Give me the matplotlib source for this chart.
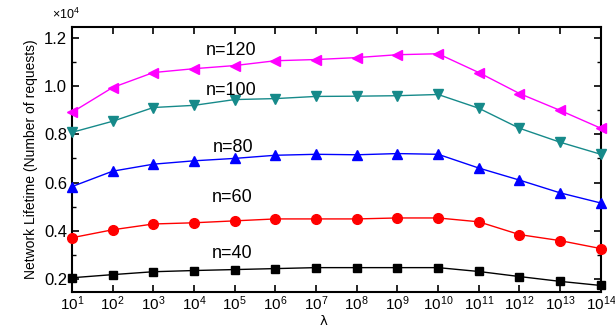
import matplotlib
matplotlib.use("Agg")
import matplotlib.pyplot as plt
from matplotlib.ticker import MultipleLocator, LogLocator, NullLocator

plt.rcParams['font.family'] = ['Liberation Sans', 'DejaVu Sans']
plt.rcParams['mathtext.fontset'] = 'custom'
plt.rcParams['mathtext.rm'] = 'Liberation Sans'

# lambda values (10^1 .. 10^14)
exponents = list(range(1, 15))
lam = [10.0 ** e for e in exponents]

# Network lifetime, in units of 10^4 requests
n40 = [0.205, 0.218, 0.230, 0.235, 0.239, 0.243, 0.247, 0.247, 0.247, 0.247, 0.231, 0.210, 0.190, 0.173]
n60 = [0.371, 0.404, 0.428, 0.433, 0.441, 0.449, 0.449, 0.449, 0.453, 0.453, 0.437, 0.384, 0.359, 0.326]
n80 = [0.583, 0.647, 0.676, 0.690, 0.700, 0.713, 0.717, 0.715, 0.720, 0.717, 0.660, 0.610, 0.557, 0.515]
n100 = [0.808, 0.854, 0.911, 0.920, 0.944, 0.948, 0.957, 0.958, 0.960, 0.965, 0.908, 0.825, 0.767, 0.717]
n120 = [0.891, 0.994, 1.056, 1.072, 1.085, 1.105, 1.110, 1.118, 1.130, 1.134, 1.056, 0.969, 0.899, 0.825]

series = [
    ("n=40", n40, "black", "s", 6),
    ("n=60", n60, "#ff0000", "o", 7),
    ("n=80", n80, "#0000ff", "^", 7),
    ("n=100", n100, "#168a8a", "v", 7),
    ("n=120", n120, "#ff00ff", "<", 7.5),
]
label_pos = {"n=120": (0.253, 0.913), "n=100": (0.253, 0.762), "n=80": (0.267, 0.547),
             "n=60": (0.265, 0.358), "n=40": (0.265, 0.147)}

fig = plt.figure(figsize=(6.15, 3.29), dpi=100)
ax = fig.add_axes([0.117, 0.1125, 0.86, 0.8055])

for name, vals, col, mk, ms in series:
    ax.plot(lam, vals, color=col, marker=mk, markersize=ms, linewidth=1.0,
            markeredgecolor=col, markerfacecolor=col, clip_on=False, zorder=3)
    x, y = label_pos[name]
    ax.text(x, y, name, transform=ax.transAxes, fontsize=13, va='center', ha='left')

ax.set_xscale('log')
ax.set_xlim(10, 1e14)
ax.set_ylim(0.146, 1.245)
ax.xaxis.set_major_locator(LogLocator(base=10, numticks=20))
ax.xaxis.set_minor_locator(NullLocator())
ax.yaxis.set_major_locator(MultipleLocator(0.2))
ax.yaxis.set_minor_locator(MultipleLocator(0.1))
ax.yaxis.set_major_formatter(matplotlib.ticker.FormatStrFormatter('%.1f'))

ax.tick_params(which='both', direction='in', top=True, right=True)
ax.tick_params(which='major', length=5, width=1.2, labelsize=12)
ax.tick_params(axis='x', which='major', labelsize=11, pad=2)
ax.tick_params(which='minor', length=3, width=1.0)
for s in ax.spines.values():
    s.set_linewidth(1.5)

ax.set_xlabel('λ', fontsize=9.5, family=['DejaVu Sans'], va='baseline')
ax.xaxis.set_label_coords(0.475, -0.126)
ax.set_ylabel('Network Lifetime (Number of requests)', fontsize=10, labelpad=4)
fig.text(0.085, 0.955, r'$\times10^4$', fontsize=9, ha='left', va='center')

fig.savefig('out.png', dpi=100)
